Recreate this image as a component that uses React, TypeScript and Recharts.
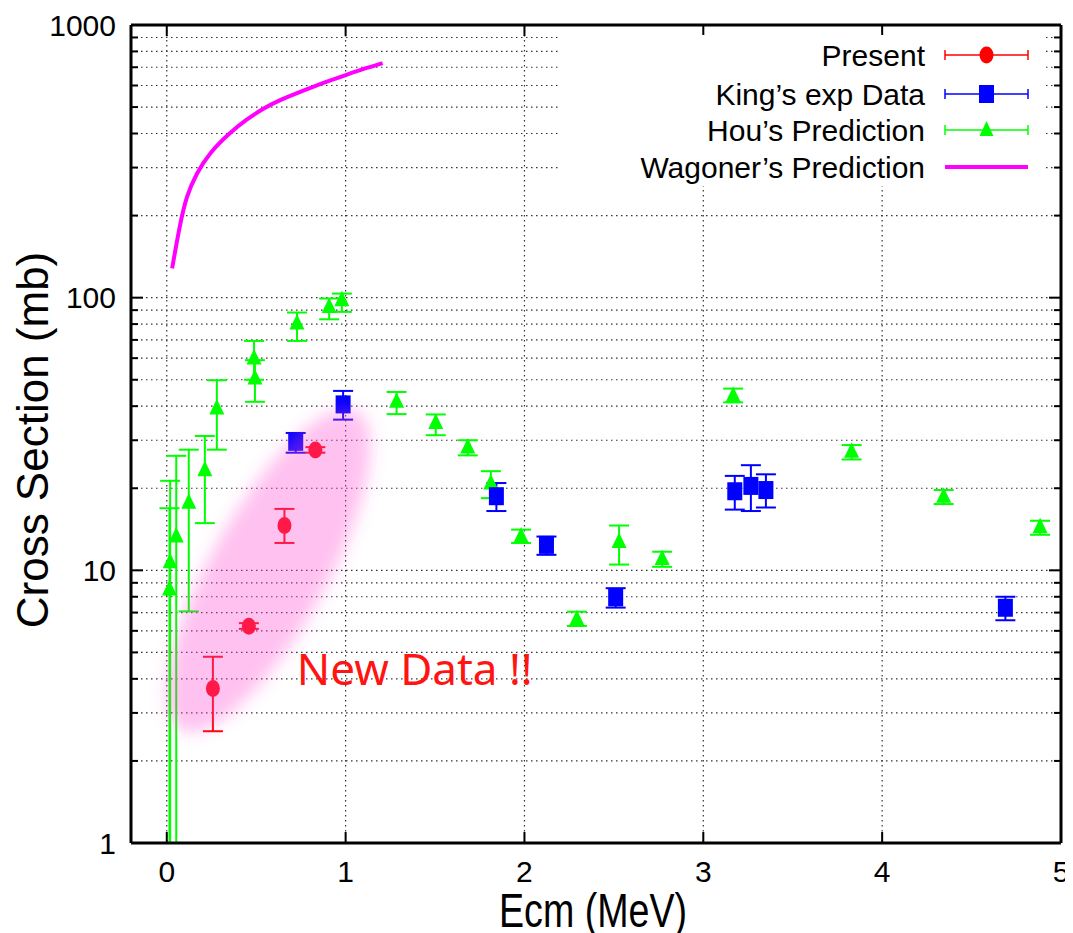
import React from "react";
import {
  ComposedChart,
  Scatter,
  Line,
  XAxis,
  YAxis,
  CartesianGrid,
  ErrorBar,
  ReferenceDot,
  Legend,
} from "recharts";

const FONT = "'Liberation Sans', Arial, Helvetica, sans-serif";

// Present data (red circles)
const presX = [0.258, 0.459, 0.658, 0.831];
const presY = [3.69, 6.24, 14.6, 27.6];
const presLo = [2.57, 6.1, 12.6, 27.0];
const presHi = [4.82, 6.4, 16.8, 28.3];

// King's exp data (blue squares)
const kingX = [0.721, 0.986, 1.843, 2.123, 2.51, 3.176, 3.266, 3.35, 4.689];
const kingY = [29.6, 40.6, 18.7, 12.4, 7.96, 19.5, 20.4, 19.7, 7.29];
const kingLo = [27.0, 35.7, 16.5, 11.4, 7.3, 16.7, 16.5, 17.0, 6.56];
const kingHi = [31.9, 45.5, 20.9, 13.3, 8.6, 22.2, 24.3, 22.5, 8.0];

// Hou's prediction (green triangles)
const houX = [0.015, 0.019, 0.053, 0.123, 0.213, 0.28, 0.488, 0.493, 0.728, 0.908, 0.979, 1.285, 1.504, 1.683, 1.812, 1.981, 2.293, 2.529, 2.77, 3.167, 3.829, 4.344, 4.883];
const houY = [8.5, 10.7, 13.3, 17.7, 23.3, 39.2, 59.8, 50.5, 80.4, 92.5, 97.8, 41.5, 34.7, 28.2, 20.8, 13.3, 6.61, 12.7, 11.0, 43.6, 27.2, 18.6, 14.4];
const houLo = [1, 1, 1, 7.07, 14.9, 27.7, 50, 41.5, 69.4, 83.3, 88.7, 37.4, 31.3, 26.4, 18.4, 12.6, 6.25, 10.5, 10.3, 41.3, 25.5, 17.5, 13.5];
const houHi = [16.9, 21.3, 26.3, 27.7, 31.1, 49.8, 69.4, 59, 88.2, 99.3, 103.5, 45.1, 37.3, 30.0, 23.1, 14.1, 7.05, 14.6, 11.7, 46.4, 28.8, 19.7, 15.2];

// Wagoner's prediction (magenta curve)
const wagX = [0.03, 0.071, 0.109, 0.165, 0.239, 0.351, 0.445, 0.538, 0.631, 0.725, 0.818, 0.911, 1.005, 1.098, 1.207];
const wagY = [128, 182, 235, 285, 340, 402, 450, 494, 530, 562, 594, 625, 657, 690, 725];

const xTicks = [0, 1, 2, 3, 4, 5];
const yTicks = [
  1, 2, 3, 4, 5, 6, 7, 8, 9,
  10, 20, 30, 40, 50, 60, 70, 80, 90,
  100, 200, 300, 400, 500, 600, 700, 800, 900,
  1000,
];

const withErr = (xs: number[], ys: number[], lo: number[], hi: number[]) =>
  xs.map((x, i) => ({ x, y: ys[i], err: [ys[i] - lo[i], hi[i] - ys[i]] }));

const presData = withErr(presX, presY, presLo, presHi);
const kingData = withErr(kingX, kingY, kingLo, kingHi);
const houData = withErr(houX, houY, houLo, houHi);
const wagData = wagX.map((x, i) => ({ x, y: wagY[i] }));

const isDecade = (v: number) => Math.abs(Math.log10(v) - Math.round(Math.log10(v))) < 1e-9;

function LeftTick(props: any) {
  const { x, y, payload } = props;
  const major = isDecade(payload.value);
  return (
    <g>
      <line x1={x} x2={x + (major ? 12 : 7)} y1={y} y2={y} stroke="#000" strokeWidth={2} />
      {major && (
        <text x={x - 15} y={y} dy={10.5} textAnchor="end" fontSize={30} fontFamily={FONT} fill="#000">
          {payload.value}
        </text>
      )}
    </g>
  );
}

function RightTick(props: any) {
  const { x, y, payload } = props;
  const major = isDecade(payload.value);
  return <line x1={x} x2={x - (major ? 12 : 7)} y1={y} y2={y} stroke="#000" strokeWidth={2} />;
}

function BottomTick(props: any) {
  const { x, y, payload } = props;
  return (
    <g>
      <line x1={x} x2={x} y1={y} y2={y - 11} stroke="#000" strokeWidth={2} />
      <text x={x} y={y + 39} textAnchor="middle" fontSize={30} fontFamily={FONT} fill="#000">
        {payload.value}
      </text>
    </g>
  );
}

function TopTick(props: any) {
  const { x, y } = props;
  return <line x1={x} x2={x} y1={y} y2={y + 11} stroke="#000" strokeWidth={2} />;
}

const circleShape = (p: any) => <ellipse cx={p.cx} cy={p.cy} rx={7} ry={8.5} fill="#ff0000" />;
const squareShape = (p: any) => <rect x={p.cx - 7.5} y={p.cy - 9} width={15} height={18} fill="#0000ff" />;
const triShape = (p: any) => (
  <polygon points={`${p.cx},${p.cy - 9.5} ${p.cx + 7.5},${p.cy + 6} ${p.cx - 7.5},${p.cy + 6}`} fill="#00ff00" />
);

const blobShape = (p: any) => (
  <g>
    <defs>
      <filter id="blobBlur" x="-50%" y="-50%" width="200%" height="200%">
        <feGaussianBlur stdDeviation="8" />
      </filter>
    </defs>
    <ellipse
      cx={p.cx}
      cy={p.cy}
      rx={182}
      ry={58}
      transform={`rotate(-61 ${p.cx} ${p.cy})`}
      fill="#ff48d4"
      fillOpacity={0.34}
      filter="url(#blobBlur)"
    />
  </g>
);

const noteShape = (p: any) => (
  <text x={p.cx} y={p.cy} fontSize={44} fontFamily="'Noto Sans', 'Open Sans', sans-serif" fill="#ff1414">
    New Data !!
  </text>
);

const legendRows = [
  { label: "Present", color: "#ff0000", kind: "circle" },
  { label: "King\u2019s exp Data", color: "#0000ff", kind: "square" },
  { label: "Hou\u2019s Prediction", color: "#00ff00", kind: "tri" },
  { label: "Wagoner\u2019s Prediction", color: "#ff00ff", kind: "line" },
];
const legendRowY = [20, 59, 95, 132];

function LegendBox() {
  return (
    <svg width={486} height={151}>
      {legendRows.map((r, i) => {
        const y = legendRowY[i];
        const x1 = 385;
        const x2 = 468;
        const cx = (x1 + x2) / 2;
        return (
          <g key={r.label}>
            <text x={365} y={y + 10.5} textAnchor="end" fontSize={30} fontFamily={FONT} fill="#000">
              {r.label}
            </text>
            {r.kind === "line" ? (
              <line x1={x1} x2={x2} y1={y} y2={y} stroke={r.color} strokeWidth={4} />
            ) : (
              <g stroke={r.color} strokeWidth={1.5}>
                <line x1={x1} x2={x2} y1={y} y2={y} />
                <line x1={x1} x2={x1} y1={y - 5} y2={y + 5} />
                <line x1={x2} x2={x2} y1={y - 5} y2={y + 5} />
              </g>
            )}
            {r.kind === "circle" && <ellipse cx={cx} cy={y} rx={7} ry={8.5} fill={r.color} />}
            {r.kind === "square" && <rect x={cx - 7.5} y={y - 9} width={15} height={18} fill={r.color} />}
            {r.kind === "tri" && (
              <polygon points={`${cx},${y - 9} ${cx + 7},${y + 6} ${cx - 7},${y + 6}`} fill={r.color} />
            )}
          </g>
        );
      })}
    </svg>
  );
}

export default function App() {
  return (
    <ComposedChart width={1065} height={925} margin={{ top: 0, right: 0, bottom: 0, left: 0 }}>
      <CartesianGrid stroke="#333" strokeWidth={1.2} strokeDasharray="1.5 3.5" />
      <XAxis
        xAxisId={0}
        dataKey="x"
        type="number"
        domain={[-0.2, 5]}
        ticks={xTicks}
        allowDataOverflow
        height={90}
        tickSize={0}
        tickMargin={0}
        interval={0}
        tick={<BottomTick />}
        axisLine={{ stroke: "#000", strokeWidth: 3 }}
        label={{
          content: (p: any) => (
            <text
              x={p.viewBox.x + p.viewBox.width / 2 - 3}
              y={p.viewBox.y + 84}
              textAnchor="middle"
              fontSize={48}
              textLength={188}
              lengthAdjust="spacingAndGlyphs"
              fontFamily={FONT}
              fill="#000"
            >
              Ecm (MeV)
            </text>
          ),
        }}
      />
      <XAxis
        xAxisId="top"
        orientation="top"
        dataKey="x"
        type="number"
        domain={[-0.2, 5]}
        ticks={xTicks}
        allowDataOverflow
        height={17}
        tickSize={0}
        tickMargin={0}
        interval={0}
        tick={<TopTick />}
        axisLine={{ stroke: "#000", strokeWidth: 3 }}
      />
      <YAxis
        yAxisId={0}
        scale="log"
        domain={[1, 1000]}
        ticks={yTicks}
        allowDataOverflow
        width={123}
        tickSize={0}
        tickMargin={0}
        interval={0}
        tick={<LeftTick />}
        axisLine={{ stroke: "#000", strokeWidth: 3 }}
        label={{
          content: (p: any) => {
            const cx = 24;
            const cy = p.viewBox.y + p.viewBox.height / 2 + 6;
            return (
              <text
                x={cx}
                y={cy}
                transform={`rotate(-90 ${cx} ${cy})`}
                textAnchor="middle"
                dominantBaseline="central"
                fontSize={44}
                fontFamily={FONT}
                fill="#000"
              >
                Cross Section (mb)
              </text>
            );
          },
        }}
      />
      <YAxis
        yAxisId="right"
        orientation="right"
        scale="log"
        domain={[1, 1000]}
        ticks={yTicks}
        allowDataOverflow
        width={12}
        tickSize={0}
        tickMargin={0}
        interval={0}
        tick={<RightTick />}
        axisLine={{ stroke: "#000", strokeWidth: 3 }}
      />
      <Line
        data={wagData}
        dataKey="y"
        type="basis"
        stroke="#ff00ff"
        strokeWidth={4}
        dot={false}
        activeDot={false}
        isAnimationActive={false}
        legendType="none"
      />
      <Scatter data={houData} dataKey="y" shape={triShape} isAnimationActive={false}>
        <ErrorBar dataKey="err" direction="y" width={10} stroke="#00ff00" strokeWidth={2} />
      </Scatter>
      <Scatter data={kingData} dataKey="y" shape={squareShape} isAnimationActive={false}>
        <ErrorBar dataKey="err" direction="y" width={10} stroke="#0000ff" strokeWidth={2} />
      </Scatter>
      <Scatter data={presData} dataKey="y" shape={circleShape} isAnimationActive={false}>
        <ErrorBar dataKey="err" direction="y" width={10} stroke="#ff0000" strokeWidth={2} />
      </Scatter>
      <ReferenceDot x={0.57} y={10} r={0} shape={blobShape} zIndex={700} />
      <ReferenceDot x={0.727} y={3.8} r={0} shape={noteShape} zIndex={710} />
      <Legend
        layout="vertical"
        align="center"
        verticalAlign="middle"
        wrapperStyle={{ left: 552, top: 27, width: 486, height: 151, background: "#fff" }}
        content={() => <LegendBox />}
      />
    </ComposedChart>
  );
}
